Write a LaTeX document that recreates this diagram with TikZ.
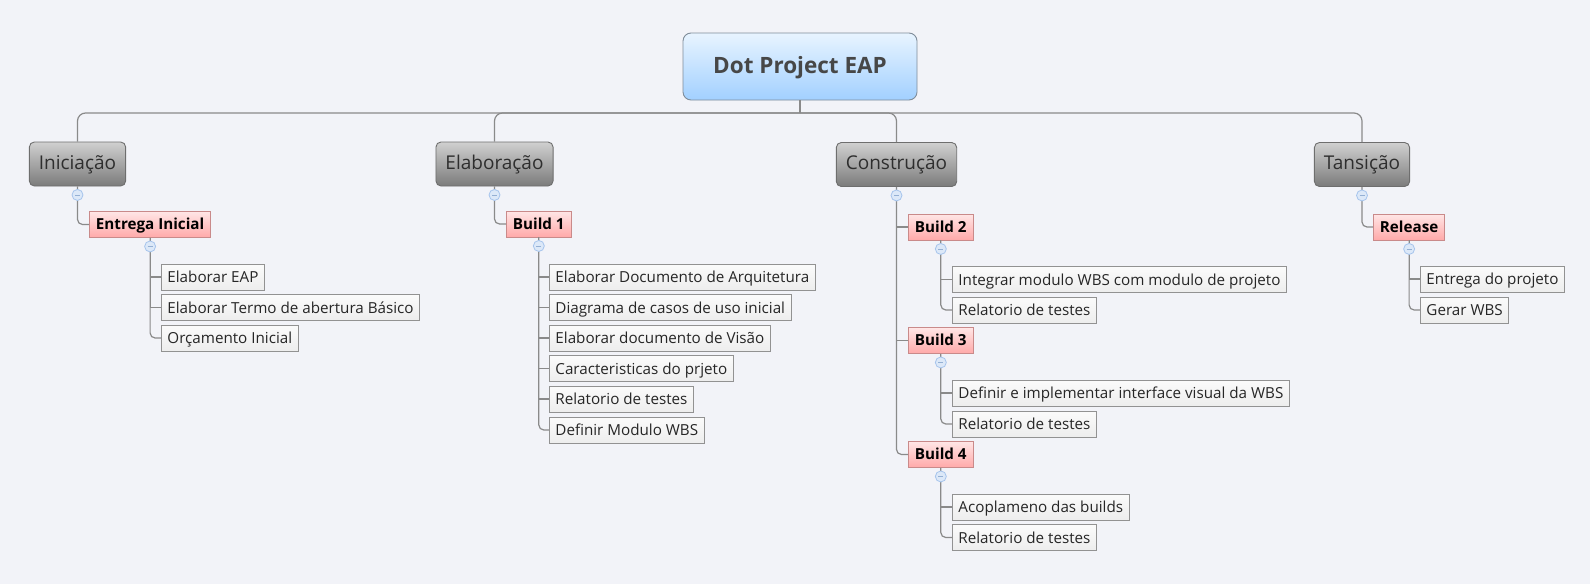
\documentclass[tikz,border=0pt]{standalone}
\usepackage{fontspec}
\setmainfont{Open Sans}
\definecolor{bg}{HTML}{F2F3F8}
\definecolor{linegray}{HTML}{8A8A8A}
\definecolor{leafborder}{HTML}{929292}
\definecolor{leaftop}{HTML}{FBFBFB}
\definecolor{leafbot}{HTML}{EDEDED}
\definecolor{buildtop}{HTML}{FFE6E6}
\definecolor{buildbot}{HTML}{FFA9A9}
\definecolor{buildborder}{HTML}{C98A8A}
\definecolor{phasetop}{HTML}{D0D0D0}
\definecolor{phasebot}{HTML}{7B7B7B}
\definecolor{phaseborder}{HTML}{6E6E6E}
\definecolor{roottop}{HTML}{E8F4FF}
\definecolor{rootbot}{HTML}{A2D0FF}
\definecolor{rootborder}{HTML}{7F8C99}
\definecolor{collfill}{HTML}{DCE8F8}
\definecolor{collborder}{HTML}{A6C4EC}
\begin{document}
\begin{tikzpicture}[x=1pt,y=-1pt,
  conn/.style={draw=linegray, line width=1.2pt},
  leaf/.style={draw=leafborder, line width=0.9pt, top color=leaftop, bottom color=leafbot,
    anchor=west, minimum height=26pt, inner xsep=6pt, inner ysep=0pt,
    text height=11.6pt, text depth=0pt,
    font=\fontsize{15.2}{18}\selectfont, text=black!85},
  build/.style={draw=buildborder, line width=0.9pt, top color=buildtop, bottom color=buildbot,
    anchor=west, minimum height=26pt, inner xsep=6.5pt, inner ysep=0pt,
    text height=10.6pt, text depth=0pt,
    font=\fontsize{15.2}{18}\selectfont\bfseries, text=black},
  phase/.style={draw=phaseborder, line width=0.9pt, top color=phasetop, bottom color=phasebot,
    rounded corners=5pt, minimum height=44pt, inner xsep=9.5pt, inner ysep=0pt,
    text height=10.4pt, text depth=0pt,
    font=\fontsize{19}{22}\selectfont, text=black!82},
  rootbox/.style={draw=rootborder, line width=0.9pt, top color=roottop, bottom color=rootbot,
    rounded corners=8pt, minimum width=234pt, minimum height=67pt,
    text height=13.6pt, text depth=0pt,
    font=\fontsize{22.5}{26}\selectfont\bfseries, text=black!72},
  collapse/.style={circle, draw=collborder, fill=collfill, line width=0.8pt,
    minimum size=11pt, inner sep=0pt},
  minus/.style={draw=collborder!90!black, line width=0.9pt}
]
\useasboundingbox (0,0) rectangle (1590,584);
\fill[bg] (0,0) rectangle (1590,584);

% root and phases
\node[rootbox] (root) at (800,66.5) {Dot Project EAP};
\node[phase] (ini) at (77.5,164) {Iniciação};
\node[phase] (ela) at (494.5,164) {Elaboração};
\node[phase] (con) at (896.5,164.5) {Construção};
\node[phase] (tra) at (1362,164.5) {Tansição};

% builds
\node[build] (ent) at (89,224.5) {Entrega Inicial};
\node[build] (b1) at (506,224) {Build 1};
\node[build] (b2) at (908,227) {Build 2};
\node[build] (b3) at (908,340.5) {Build 3};
\node[build] (b4) at (908,454.5) {Build 4};
\node[build] (rel) at (1373,227) {Release};

% leaves: Iniciação
\node[leaf] (i1) at (161,277) {Elaborar EAP};
\node[leaf] (i2) at (161,307.5) {Elaborar Termo de abertura Básico};
\node[leaf] (i3) at (161,338) {Orçamento Inicial};
% leaves: Elaboração
\node[leaf] (e1) at (549,277) {Elaborar Documento de Arquitetura};
\node[leaf] (e2) at (549,307.5) {Diagrama de casos de uso inicial};
\node[leaf] (e3) at (549,338) {Elaborar documento de Visão};
\node[leaf] (e4) at (549,368.5) {Caracteristicas do prjeto};
\node[leaf] (e5) at (549,399) {Relatorio de testes};
\node[leaf] (e6) at (549,430) {Definir Modulo WBS};
% leaves: Construção
\node[leaf] (c1) at (952,279.5) {Integrar modulo WBS com modulo de projeto};
\node[leaf] (c2) at (952,310) {Relatorio de testes};
\node[leaf] (c3) at (952,393) {Definir e implementar interface visual da WBS};
\node[leaf] (c4) at (952,424) {Relatorio de testes};
\node[leaf] (c5) at (952,507) {Acoplameno das builds};
\node[leaf] (c6) at (952,537.5) {Relatorio de testes};
% leaves: Tansição
\node[leaf] (t1) at (1420,279) {Entrega do projeto};
\node[leaf] (t2) at (1420,310) {Gerar WBS};

% top connectors
\coordinate (hub) at (800,113);
\draw[conn] (root.south) -- (hub);
\draw[conn, rounded corners=8pt] (hub) -| (ini.north);
\draw[conn, rounded corners=8pt] (hub) -| (ela.north);
\draw[conn, rounded corners=8pt] (hub) -| (con.north);
\draw[conn, rounded corners=8pt] (hub) -| (tra.north);

% phase -> builds
\draw[conn, rounded corners=5pt] (ini.south) |- (ent.west);
\draw[conn, rounded corners=5pt] (ela.south) |- (b1.west);
\draw[conn] (con.south) |- (b2.west);
\draw[conn] (con.south) |- (b3.west);
\draw[conn, rounded corners=5pt] (con.south) |- (b4.west);
\draw[conn, rounded corners=5pt] (tra.south) |- (rel.west);

% builds -> leaves
\draw[conn] (ent.south) |- (i1.west);
\draw[conn] (ent.south) |- (i2.west);
\draw[conn, rounded corners=5pt] (ent.south) |- (i3.west);
\draw[conn] (b1.south) |- (e1.west);
\draw[conn] (b1.south) |- (e2.west);
\draw[conn] (b1.south) |- (e3.west);
\draw[conn] (b1.south) |- (e4.west);
\draw[conn] (b1.south) |- (e5.west);
\draw[conn, rounded corners=5pt] (b1.south) |- (e6.west);
\draw[conn] (b2.south) |- (c1.west);
\draw[conn, rounded corners=5pt] (b2.south) |- (c2.west);
\draw[conn] (b3.south) |- (c3.west);
\draw[conn, rounded corners=5pt] (b3.south) |- (c4.west);
\draw[conn] (b4.south) |- (c5.west);
\draw[conn, rounded corners=5pt] (b4.south) |- (c6.west);
\draw[conn] (rel.south) |- (t1.west);
\draw[conn, rounded corners=5pt] (rel.south) |- (t2.west);

% collapse markers
\foreach \p/\k in {ini/kini, ela/kela, con/kcon, tra/ktra, ent/kent, b1/kb1, b2/kb2, b3/kb3, b4/kb4, rel/krel}{
  \node[collapse] (\k) at ([yshift=-8.5pt]\p.south) {};
  \draw[minus] ([xshift=-2.5pt]\k.center) -- ([xshift=2.5pt]\k.center);
}
\end{tikzpicture}
\end{document}
